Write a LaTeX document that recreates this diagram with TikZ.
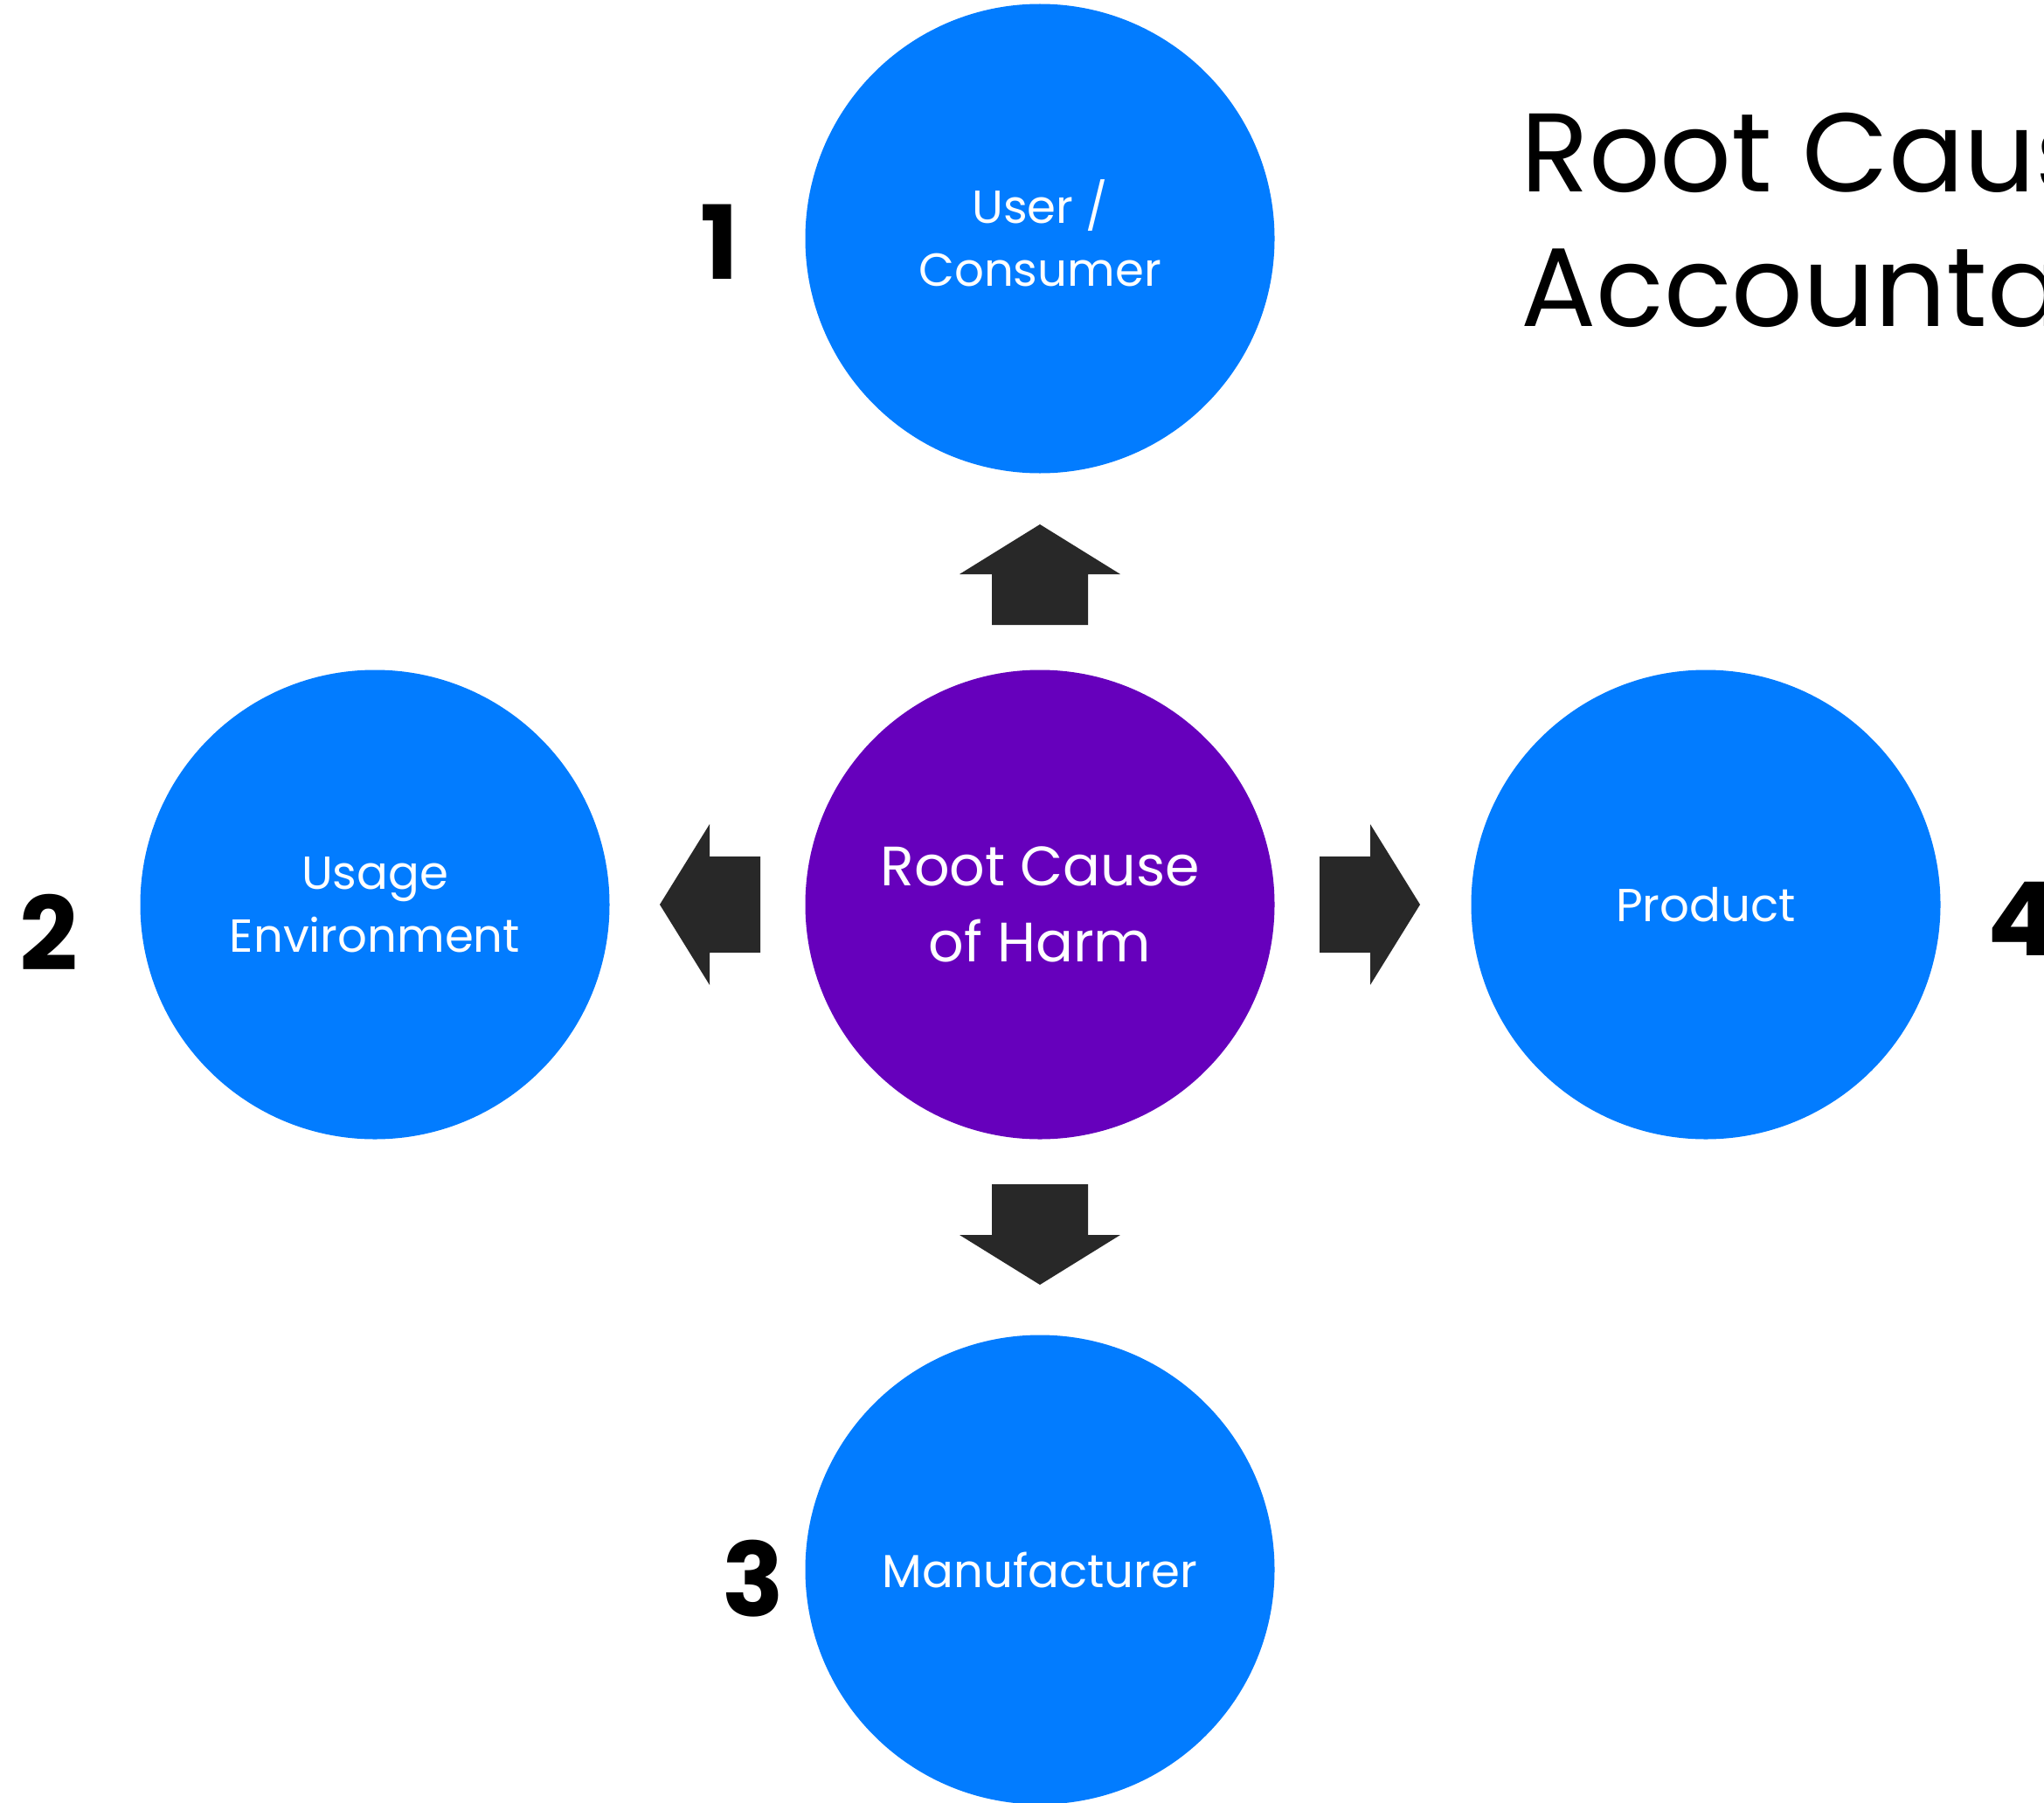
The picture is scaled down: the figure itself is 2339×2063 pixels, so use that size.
\documentclass[tikz,border=0pt]{standalone}
\usepackage{fontspec}
\setmainfont{Poppins}
\definecolor{cblue}{HTML}{027CFF}
\definecolor{cpurple}{HTML}{6600BC}
\definecolor{cdark}{HTML}{282828}
\tikzset{
  circ/.style={circle, fill=cblue, minimum size=537pt, inner sep=0pt, text=white, align=center, font=\fontsize{53}{72}\selectfont},
  lbl/.style={inner sep=0pt, text=white, align=center, font=\fontsize{53}{72}\selectfont},
  hub/.style={circ, fill=cpurple, font=\fontsize{63.5}{87}\selectfont},
  num/.style={inner sep=0pt, text=black, font=\fontsize{117}{117}\selectfont\bfseries},
  blockarrow/.style={fill=cdark},
}
\begin{document}
\begin{tikzpicture}[x=1pt,y=-1pt]
\useasboundingbox (0,0) rectangle (2339,2063);
\fill[white] (0,0) rectangle (2339,2063);
\node[circ] (user) at (1190,273) {};
\node[lbl] (userlbl) at ([yshift=6pt]user.center) {User /\\Consumer};
\node[hub] (harm) at (1190,1035) {Root Cause\\of Harm};
\node[circ] (env) at (429,1035) {Usage\\Environment};
\node[circ] (prod) at (1952,1035) {Product};
\node[circ] (manu) at (1190,1796) {Manufacturer};
\foreach \r/\n in {90/up,180/left,270/down,0/right}{
  \fill[blockarrow, shift={(harm.center)}, rotate=\r]
    (320,-55) -- (378,-55) -- (378,-92) -- (435,0) -- (378,92) -- (378,55) -- (320,55) -- cycle;
}
\node[num] (n1) at (823,277) {1};
\node[num] (n2) at (56,1067) {2};
\node[num] (n3) at (862,1806) {3};
\node[num, anchor=west] (n4) at (2274,1051) {4};
\node[anchor=base west, inner sep=0pt, align=left, font=\fontsize{128}{154}\selectfont] (title) at (1740,373) {Root Cause\\Accountability};
\end{tikzpicture}
\end{document}
